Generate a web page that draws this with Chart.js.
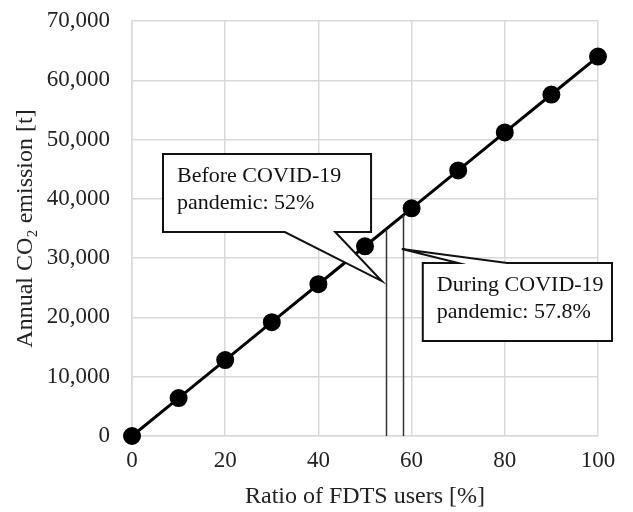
<!DOCTYPE html>
<html>
<head>
<meta charset="utf-8">
<script src="https://cdn.jsdelivr.net/npm/chart.js@4"></script>
<style>
  body { margin: 0; background: #fff; }
  #wrap { width: 633px; height: 512px; }
</style>
</head>
<body>
<div id="wrap"><canvas id="co2Chart"></canvas></div>
<script>
const ratios = [0, 10, 20, 30, 40, 50, 60, 70, 80, 90, 100];
const emissions = [0, 6400, 12800, 19200, 25600, 32000, 38400, 44800, 51200, 57600, 64000];
const markerRatios = [54.5, 58.2];
const calloutTexts = [
    ['Before COVID-19', 'pandemic: 52%'],
    ['During COVID-19', 'pandemic: 57.8%']
];

const serif = '"Liberation Serif", "Times New Roman", serif';

// emission at a given ratio
const emissionAt = (r) => {
    for (let i = 1; i < ratios.length; i++) {
        if (r <= ratios[i]) {
            const t = (r - ratios[i - 1]) / (ratios[i] - ratios[i - 1]);
            return emissions[i - 1] + t * (emissions[i] - emissions[i - 1]);
        }
    }
    return emissions[emissions.length - 1];
};

// callout boxes in data units: box [x0, x1, yTop, yBottom], tail base x pair, tip point
const callouts = [
    { box: [6.65, 51.3, 47560, 34410], base: [32.8, 43.6], edge: 'bottom', tip: [53.6, 26140], text: calloutTexts[0] },
    { box: [62.4, 103, 29180, 16020], base: [70, 80.5], edge: 'top', tip: [57.9, 31540], text: calloutTexts[1] }
];

const overlayPlugin = {
    id: 'overlay',
    afterDatasetsDraw(chart) {
        const ctx = chart.ctx;
        const xs = chart.scales.x, ys = chart.scales.y;
        ctx.save();
        // vertical markers
        ctx.strokeStyle = '#333';
        ctx.lineWidth = 1.5;
        markerRatios.forEach(r => {
            const px = Math.round(xs.getPixelForValue(r)) + 0.5;
            ctx.beginPath();
            ctx.moveTo(px, ys.getPixelForValue(0));
            ctx.lineTo(px, ys.getPixelForValue(emissionAt(r)));
            ctx.stroke();
        });
        // callouts
        callouts.forEach(c => {
            const x0 = xs.getPixelForValue(c.box[0]);
            const x1 = xs.getPixelForValue(c.box[1]);
            const y0 = ys.getPixelForValue(c.box[2]);
            const y1 = ys.getPixelForValue(c.box[3]);
            const b0 = xs.getPixelForValue(c.base[0]);
            const b1 = xs.getPixelForValue(c.base[1]);
            const tx = xs.getPixelForValue(c.tip[0]);
            const ty = ys.getPixelForValue(c.tip[1]);
            ctx.beginPath();
            if (c.edge === 'bottom') {
                ctx.moveTo(x0, y0);
                ctx.lineTo(x1, y0);
                ctx.lineTo(x1, y1);
                ctx.lineTo(b1, y1);
                ctx.lineTo(tx, ty);
                ctx.lineTo(b0, y1);
                ctx.lineTo(x0, y1);
            } else {
                ctx.moveTo(x0, y0);
                ctx.lineTo(b0, y0);
                ctx.lineTo(tx, ty);
                ctx.lineTo(b1, y0);
                ctx.lineTo(x1, y0);
                ctx.lineTo(x1, y1);
                ctx.lineTo(x0, y1);
            }
            ctx.closePath();
            ctx.fillStyle = '#fff';
            ctx.fill();
            ctx.strokeStyle = '#111';
            ctx.lineWidth = 2;
            ctx.stroke();
            ctx.fillStyle = '#111';
            ctx.font = '22px ' + serif;
            ctx.textBaseline = 'middle';
            ctx.textAlign = 'left';
            c.text.forEach((line, i) => {
                ctx.fillText(line, x0 + 14, y0 + 22 + i * 27);
            });
        });
        ctx.restore();
    }
};

const ctx = document.getElementById('co2Chart').getContext('2d');
new Chart(ctx, {
    type: 'scatter',
    data: {
        datasets: [{
            data: ratios.map((r, i) => ({ x: r, y: emissions[i] })),
            showLine: true,
            clip: false,
            borderColor: '#000',
            borderWidth: 3,
            backgroundColor: '#000',
            pointRadius: 7.5,
            pointHoverRadius: 7.5
        }]
    },
    options: {
        responsive: true,
        maintainAspectRatio: false,
        animation: false,
        layout: { padding: { top: 21, right: 35, left: 11, bottom: 0 } },
        scales: {
            x: {
                min: 0,
                max: 100,
                afterFit: (scale) => { scale.height = 76; },
                ticks: { stepSize: 20, color: '#222', padding: 11, font: { family: serif, size: 23 } },
                grid: { color: '#d9d9d9', lineWidth: 1.5, drawTicks: false },
                border: { color: '#d9d9d9', width: 1.5 },
                title: { display: true, text: 'Ratio of FDTS users [%]', color: '#222', padding: { top: 4, bottom: 1 }, font: { family: serif, size: 24 } }
            },
            y: {
                min: 0,
                max: 70000,
                afterFit: (scale) => {
                    scale.width = 121;
                    scale.paddingTop = 13;
                    scale.paddingBottom = 13;
                },
                ticks: {
                    stepSize: 10000,
                    color: '#222',
                    padding: 22,
                    font: { family: serif, size: 23 },
                    callback: (v) => v.toLocaleString('en-US')
                },
                grid: { color: '#d9d9d9', lineWidth: 1.5, drawTicks: false },
                border: { color: '#d9d9d9', width: 1.5 },
                title: { display: true, text: 'Annual CO\u2082 emission [t]', color: '#222', padding: { top: 0, bottom: 0 }, font: { family: serif, size: 24 } }
            }
        },
        plugins: {
            legend: { display: false },
            tooltip: { enabled: false }
        }
    },
    plugins: [overlayPlugin]
});
</script>
</body>
</html>
